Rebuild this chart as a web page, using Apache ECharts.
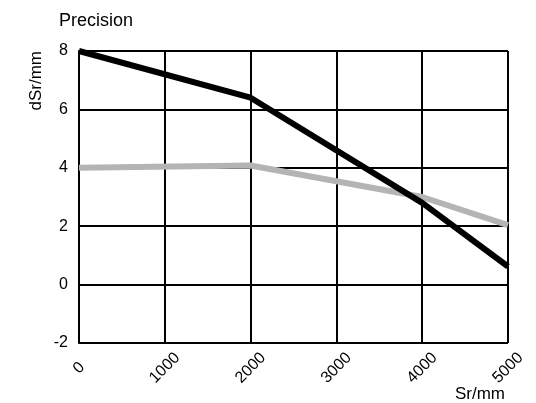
<!DOCTYPE html>
<html><head><meta charset="utf-8">
<script src="https://cdn.jsdelivr.net/npm/echarts@6/dist/echarts.min.js"></script>
<style>html,body{margin:0;padding:0;background:#fff}#c{width:536px;height:403px}</style>
</head><body><div id="c"></div>
<script>
const xValues = [0, 2000, 4000, 5000];
const blackSeries = [8, 6.4, 2.8, 0.62];
const graySeries = [4, 4.08, 3.0, 2.04];
const title = 'Precision';
const xName = 'Sr/mm';
const yName = 'dSr/mm';

const chart = echarts.init(document.getElementById('c'));
const font = 'Liberation Sans, Arial, sans-serif';
chart.setOption({
  animation: false,
  title: [
    { text: title, left: 54, top: 7, textStyle: { fontFamily: font, fontSize: 18, fontWeight: 'normal', color: '#000' } },
    { text: xName, right: 26, top: 381, textStyle: { fontFamily: font, fontSize: 17, fontWeight: 'normal', color: '#000' } }
  ],
  grid: { left: 79, right: 28, top: 51, bottom: 60 },
  xAxis: {
    type: 'value', min: 0, max: 5000, interval: 1000,
    axisLine: { show: true, lineStyle: { color: '#000', width: 2 } },
    axisTick: { show: false },
    splitLine: { show: true, lineStyle: { color: '#000', width: 2 } },
    axisLabel: { rotate: 45, align: 'center', verticalAlign: 'middle', fontFamily: font, fontSize: 16, color: '#000', margin: 25, formatter: v => String(v) }
  },
  yAxis: {
    type: 'value', min: -2, max: 8, interval: 2,
    name: yName, nameLocation: 'end', nameRotate: 90, nameGap: 0,
    nameTextStyle: { fontFamily: font, fontSize: 17, color: '#000', align: 'right', verticalAlign: 'bottom', padding: [0, 0, 34, 0] },
    axisLine: { show: true, lineStyle: { color: '#000', width: 2 } },
    axisTick: { show: false },
    splitLine: { show: true, lineStyle: { color: '#000', width: 2 } },
    axisLabel: { fontFamily: font, fontSize: 16, color: '#000', margin: 11 }
  },
  series: [
    { type: 'line', data: xValues.map((x, i) => [x, graySeries[i]]), symbol: 'none', lineStyle: { color: '#b4b4b4', width: 6 }, z: 3 },
    { type: 'line', data: xValues.map((x, i) => [x, blackSeries[i]]), symbol: 'none', lineStyle: { color: '#000', width: 6 }, z: 4 }
  ]
});
</script></body></html>
